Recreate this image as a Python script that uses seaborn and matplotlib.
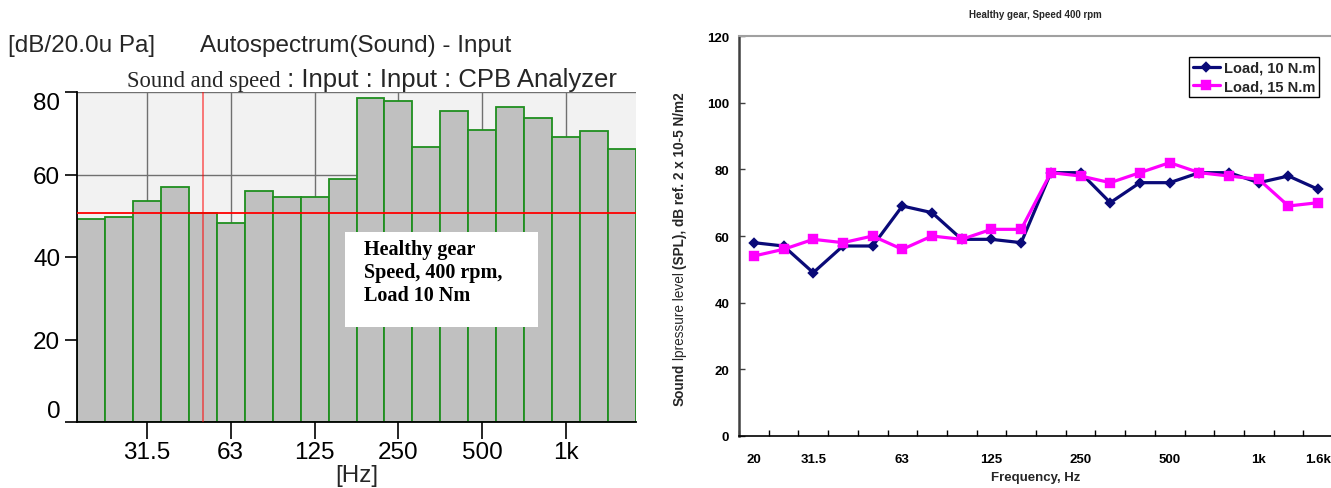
import numpy as np
import pandas as pd
import matplotlib
matplotlib.use("Agg")
import matplotlib.pyplot as plt
from matplotlib.patches import Rectangle
import seaborn as sns

# One-third-octave band centres (Hz)
bands = ["20", "25", "31.5", "40", "50", "63", "80", "100", "125", "160",
         "200", "250", "315", "400", "500", "630", "800", "1k", "1.25k", "1.6k"]

# CPB autospectrum of the sound signal, healthy gear, 400 rpm, 10 N.m (dB re 20 uPa)
cpb_levels = [49.2, 49.7, 53.6, 57.0, 50.7, 48.2, 55.9, 54.5, 54.5, 58.9,
              78.6, 77.7, 66.7, 75.3, 70.9, 76.3, 73.8, 69.1, 70.5, 66.2]
cursor_band = "50"
cursor_level = 50.7
cpb_tick_labels = ["31.5", "63", "125", "250", "500", "1k"]
cpb_yticks = [0, 20, 40, 60, 80]

# Sound pressure level per band for the two loads
load_names = ["Load, 10 N.m", "Load, 15 N.m"]
spl_10 = [58, 57, 49, 57, 57, 69, 67, 59, 59, 58, 79, 79, 70, 76, 76, 79, 79, 76, 78, 74]
spl_15 = [54, 56, 59, 58, 60, 56, 60, 59, 62, 62, 79, 78, 76, 79, 82, 79, 78, 77, 69, 70]
spl_tick_labels = ["20", "31.5", "63", "125", "250", "500", "1k", "1.6k"]
spl_yticks = [0, 20, 40, 60, 80, 100, 120]

sns.set_theme(style="white")
plt.rcParams["font.family"] = ["Liberation Sans", "DejaVu Sans"]

W, H = 1331, 489
fig = plt.figure(figsize=(W / 100, H / 100), dpi=100)


def fx(x):
    return x / W


def fy(y):
    return 1 - y / H


# ---------------- left: analyzer CPB spectrum ----------------
ax1 = fig.add_axes([fx(77), fy(423), fx(636) - fx(77), fy(93) - fy(423)])
ax1.set_facecolor("#f2f2f2")
df1 = pd.DataFrame({"band": bands, "level": cpb_levels})
sns.barplot(data=df1, x="band", y="level", order=bands, color="#c0c0c0",
            saturation=1, width=1.0, edgecolor="#1f8f1f", linewidth=1.3,
            ax=ax1, zorder=2)
ax1.set_xlim(-0.5, len(bands) - 0.5)
ax1.set_ylim(0, 80)
ax1.set_xticks([bands.index(b) for b in cpb_tick_labels], cpb_tick_labels)
ax1.set_yticks(cpb_yticks)
ax1.grid(True, color="#707070", lw=1)
ax1.set_axisbelow(True)
ax1.tick_params(axis="x", direction="out", length=12, width=1.2, color="black",
                pad=2, labelsize=17.5, bottom=True)
ax1.tick_params(axis="y", direction="out", length=9, width=1.2, color="black",
                pad=3, labelsize=17.5, left=True)
ylabels = ax1.get_yticklabels()
ylabels[0].set_va("bottom")
ylabels[-1].set_va("top")
for side in ["top", "right"]:
    ax1.spines[side].set_visible(False)
for side in ["left", "bottom"]:
    ax1.spines[side].set_color("black")
    ax1.spines[side].set_linewidth(1.3)
ax1.set_xlabel("")
ax1.set_ylabel("")
for lab in ax1.get_xticklabels() + ax1.get_yticklabels():
    lab.set_color("black")
fig.text(fx(357), fy(476), "[Hz]", fontsize=17.5, ha="center", va="center")

# cursor
ax1.axhline(cursor_level, color="red", lw=1.3, zorder=3)
ax1.axvline(bands.index(cursor_band), color="red", alpha=0.55, lw=1.3, zorder=3)

# annotation box
ax1.add_patch(Rectangle((0.479, 0.288), 0.345, 0.288, transform=ax1.transAxes,
                        facecolor="white", edgecolor="none", zorder=4))
ax1.text(0.513, 0.555, "Healthy gear\nSpeed, 400 rpm,\nLoad 10 Nm",
         transform=ax1.transAxes, family=["Liberation Serif"], weight="bold",
         fontsize=14.5, va="top", ha="left", linespacing=1.2, zorder=5,
         color="black")

# analyzer header
fig.text(fx(8), fy(46), "[dB/20.0u Pa]", fontsize=17.5, va="center", ha="left")
fig.text(fx(200), fy(46), "Autospectrum(Sound) - Input", fontsize=17.5,
         va="center", ha="left")
t_serif = fig.text(fx(127), fy(92), "Sound and speed", family=["Liberation Serif"],
                   fontsize=16.3, va="bottom", ha="left")
ax1.annotate(" : Input : Input : CPB Analyzer", xy=(1, 0), xycoords=t_serif,
             va="bottom", ha="left", fontsize=18.5, annotation_clip=False)

# ---------------- right: SPL versus frequency ----------------
ax2 = fig.add_axes([fx(739), fy(437), fx(1333) - fx(739), fy(37) - fy(437)])
df2 = pd.DataFrame({
    "band": bands * 2,
    "spl": spl_10 + spl_15,
    "load": [load_names[0]] * len(bands) + [load_names[1]] * len(bands),
})
sns.pointplot(data=df2, x="band", y="spl", hue="load", order=bands,
              hue_order=load_names, palette=["#0a0a78", "#ff00ff"],
              markers=["D", "s"], errorbar=None, ax=ax2, linewidth=2.3,
              markersize=5, legend=False)
line10, line15 = ax2.lines[0], ax2.lines[1]
line10.set_markersize(4.5)
line15.set_markersize(5.5)

ax2.set_xlim(-0.5, len(bands) - 0.5)
ax2.set_ylim(0, 120)
ax2.set_xticks([bands.index(b) for b in spl_tick_labels], spl_tick_labels)
ax2.set_xticks(np.arange(len(bands) + 1) - 0.5, minor=True)
ax2.set_yticks(spl_yticks)
ax2.tick_params(axis="x", which="major", length=0, pad=12, labelsize=9.5)
ax2.tick_params(axis="x", which="minor", direction="in", length=4, width=1,
                color="black", bottom=True)
ax2.tick_params(axis="y", direction="in", length=4, width=1, color="#404040",
                pad=7, labelsize=9.5, left=True)
for lab in ax2.get_xticklabels() + ax2.get_yticklabels():
    lab.set_fontweight("bold")
    lab.set_color("black")
ax2.set_xlabel("")
ax2.set_ylabel("")
ax2.spines["right"].set_visible(False)
ax2.spines["top"].set_color("#a0a0a0")
ax2.spines["top"].set_linewidth(1.5)
ax2.spines["left"].set_color("#404040")
ax2.spines["left"].set_linewidth(1.8)
ax2.spines["bottom"].set_color("black")
ax2.spines["bottom"].set_linewidth(1.2)

leg = ax2.legend([line10, line15], load_names, loc="upper right",
                 bbox_to_anchor=(fx(1319), fy(58)), bbox_transform=fig.transFigure,
                 frameon=True, fancybox=False, edgecolor="black", framealpha=1,
                 prop=dict(weight="bold", size=10.5), handlelength=1.9,
                 handletextpad=0.25, borderpad=0.25, labelspacing=0.3,
                 borderaxespad=0)
leg.get_frame().set_linewidth(1.0)

fig.text(fx(1035), fy(15), "Healthy gear, Speed 400 rpm", fontsize=7,
         weight="bold", ha="center", va="center")
fig.text(fx(1036), fy(478), "Frequency, Hz", fontsize=9.5, weight="bold",
         ha="center", va="center")

# y label with mixed weights, stacked bottom to top
yl1 = fig.text(fx(680), fy(406), "Sound", rotation=90, fontsize=9.8,
               weight="bold", ha="center", va="bottom")
yl2 = ax2.annotate("lpressure level", xy=(0.5, 1), xycoords=yl1,
                   xytext=(0, 2.5), textcoords="offset points", rotation=90,
                   fontsize=9.8, weight="normal", ha="center", va="bottom",
                   annotation_clip=False)
ax2.annotate("(SPL), dB ref. 2 x 10-5 N/m2", xy=(0.5, 1), xycoords=yl2,
             xytext=(0, 2.5), textcoords="offset points", rotation=90,
             fontsize=9.8, weight="bold", ha="center", va="bottom",
             annotation_clip=False)

fig.savefig("out.png", dpi=100)
